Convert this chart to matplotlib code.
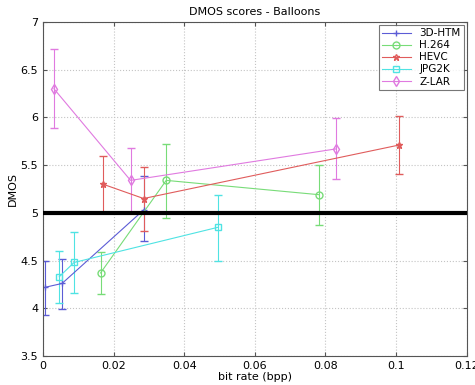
import matplotlib
matplotlib.use("Agg")
import matplotlib.pyplot as plt
from matplotlib.lines import Line2D

# bit rate (bpp), DMOS, and error bar lower/upper bounds per codec
htm_x = [0.0006, 0.0054, 0.0285]
htm_y = [4.22, 4.26, 5.03]
htm_lo = [3.93, 3.99, 4.70]
htm_hi = [4.50, 4.52, 5.39]

h264_x = [0.0163, 0.0349, 0.0782]
h264_y = [4.37, 5.34, 5.19]
h264_lo = [4.15, 4.95, 4.87]
h264_hi = [4.59, 5.72, 5.50]

hevc_x = [0.0170, 0.0285, 0.1008]
hevc_y = [5.30, 5.15, 5.71]
hevc_lo = [5.01, 4.81, 5.41]
hevc_hi = [5.60, 5.48, 6.01]

jpg_x = [0.0046, 0.0088, 0.0497]
jpg_y = [4.33, 4.48, 4.85]
jpg_lo = [4.06, 4.16, 4.50]
jpg_hi = [4.60, 4.80, 5.19]

zlar_x = [0.0031, 0.0248, 0.0830]
zlar_y = [6.30, 5.34, 5.67]
zlar_lo = [5.89, 5.00, 5.35]
zlar_hi = [6.72, 5.68, 5.99]

series = [
    ("3D-HTM", htm_x, htm_y, htm_lo, htm_hi, "#5c5cd6", "+"),
    ("H.264", h264_x, h264_y, h264_lo, h264_hi, "#78dc78", "o"),
    ("HEVC", hevc_x, hevc_y, hevc_lo, hevc_hi, "#e05c5c", "*"),
    ("JPG2K", jpg_x, jpg_y, jpg_lo, jpg_hi, "#4fe3e3", "s"),
    ("Z-LAR", zlar_x, zlar_y, zlar_lo, zlar_hi, "#e07ae0", "d"),
]

fig = plt.figure(figsize=(4.75, 3.85), dpi=100)
ax = fig.add_axes([0.0905, 0.0753, 0.892, 0.8677])

handles = []
for name, xs, ys, lo, hi, col, mk in series:
    yerr = [[y - l for y, l in zip(ys, lo)], [h - y for y, h in zip(ys, hi)]]
    ax.errorbar(xs, ys, yerr=yerr, color=col, marker=mk, markersize=5,
                markerfacecolor="none", markeredgecolor=col, lw=0.8,
                elinewidth=0.8, capsize=3)
    handles.append(Line2D([], [], color=col, marker=mk, markersize=5,
                          markerfacecolor="none", lw=0.8, label=name))

ax.axhline(5, color="black", lw=3, zorder=5)

ax.set_xlim(0, 0.12)
ax.set_ylim(3.5, 7)
ax.set_xticks([0, 0.02, 0.04, 0.06, 0.08, 0.1, 0.12])
ax.set_xticklabels(["0", "0.02", "0.04", "0.06", "0.08", "0.1", "0.12"])
ax.set_yticks([3.5, 4, 4.5, 5, 5.5, 6, 6.5, 7])
ax.set_yticklabels(["3.5", "4", "4.5", "5", "5.5", "6", "6.5", "7"])
ax.grid(True, color="#c4c4c4", linestyle=":", lw=0.8)
ax.tick_params(direction="in", top=True, right=True, labelsize=8, length=3, color="#555555")
for s in ax.spines.values():
    s.set_color("#555555")

ax.set_xlabel("bit rate (bpp)", fontsize=8, labelpad=1)
ax.set_ylabel("DMOS", fontsize=8, labelpad=2)
ax.set_title("DMOS scores - Balloons", fontsize=8, pad=5)

leg = ax.legend(handles=handles, loc="upper right", fontsize=7.5, frameon=True,
                fancybox=False, edgecolor="#555555", handlelength=2.8,
                borderaxespad=0.3, labelspacing=0.2, borderpad=0.3)
leg.get_frame().set_linewidth(0.8)

fig.savefig("out.png", dpi=100)
